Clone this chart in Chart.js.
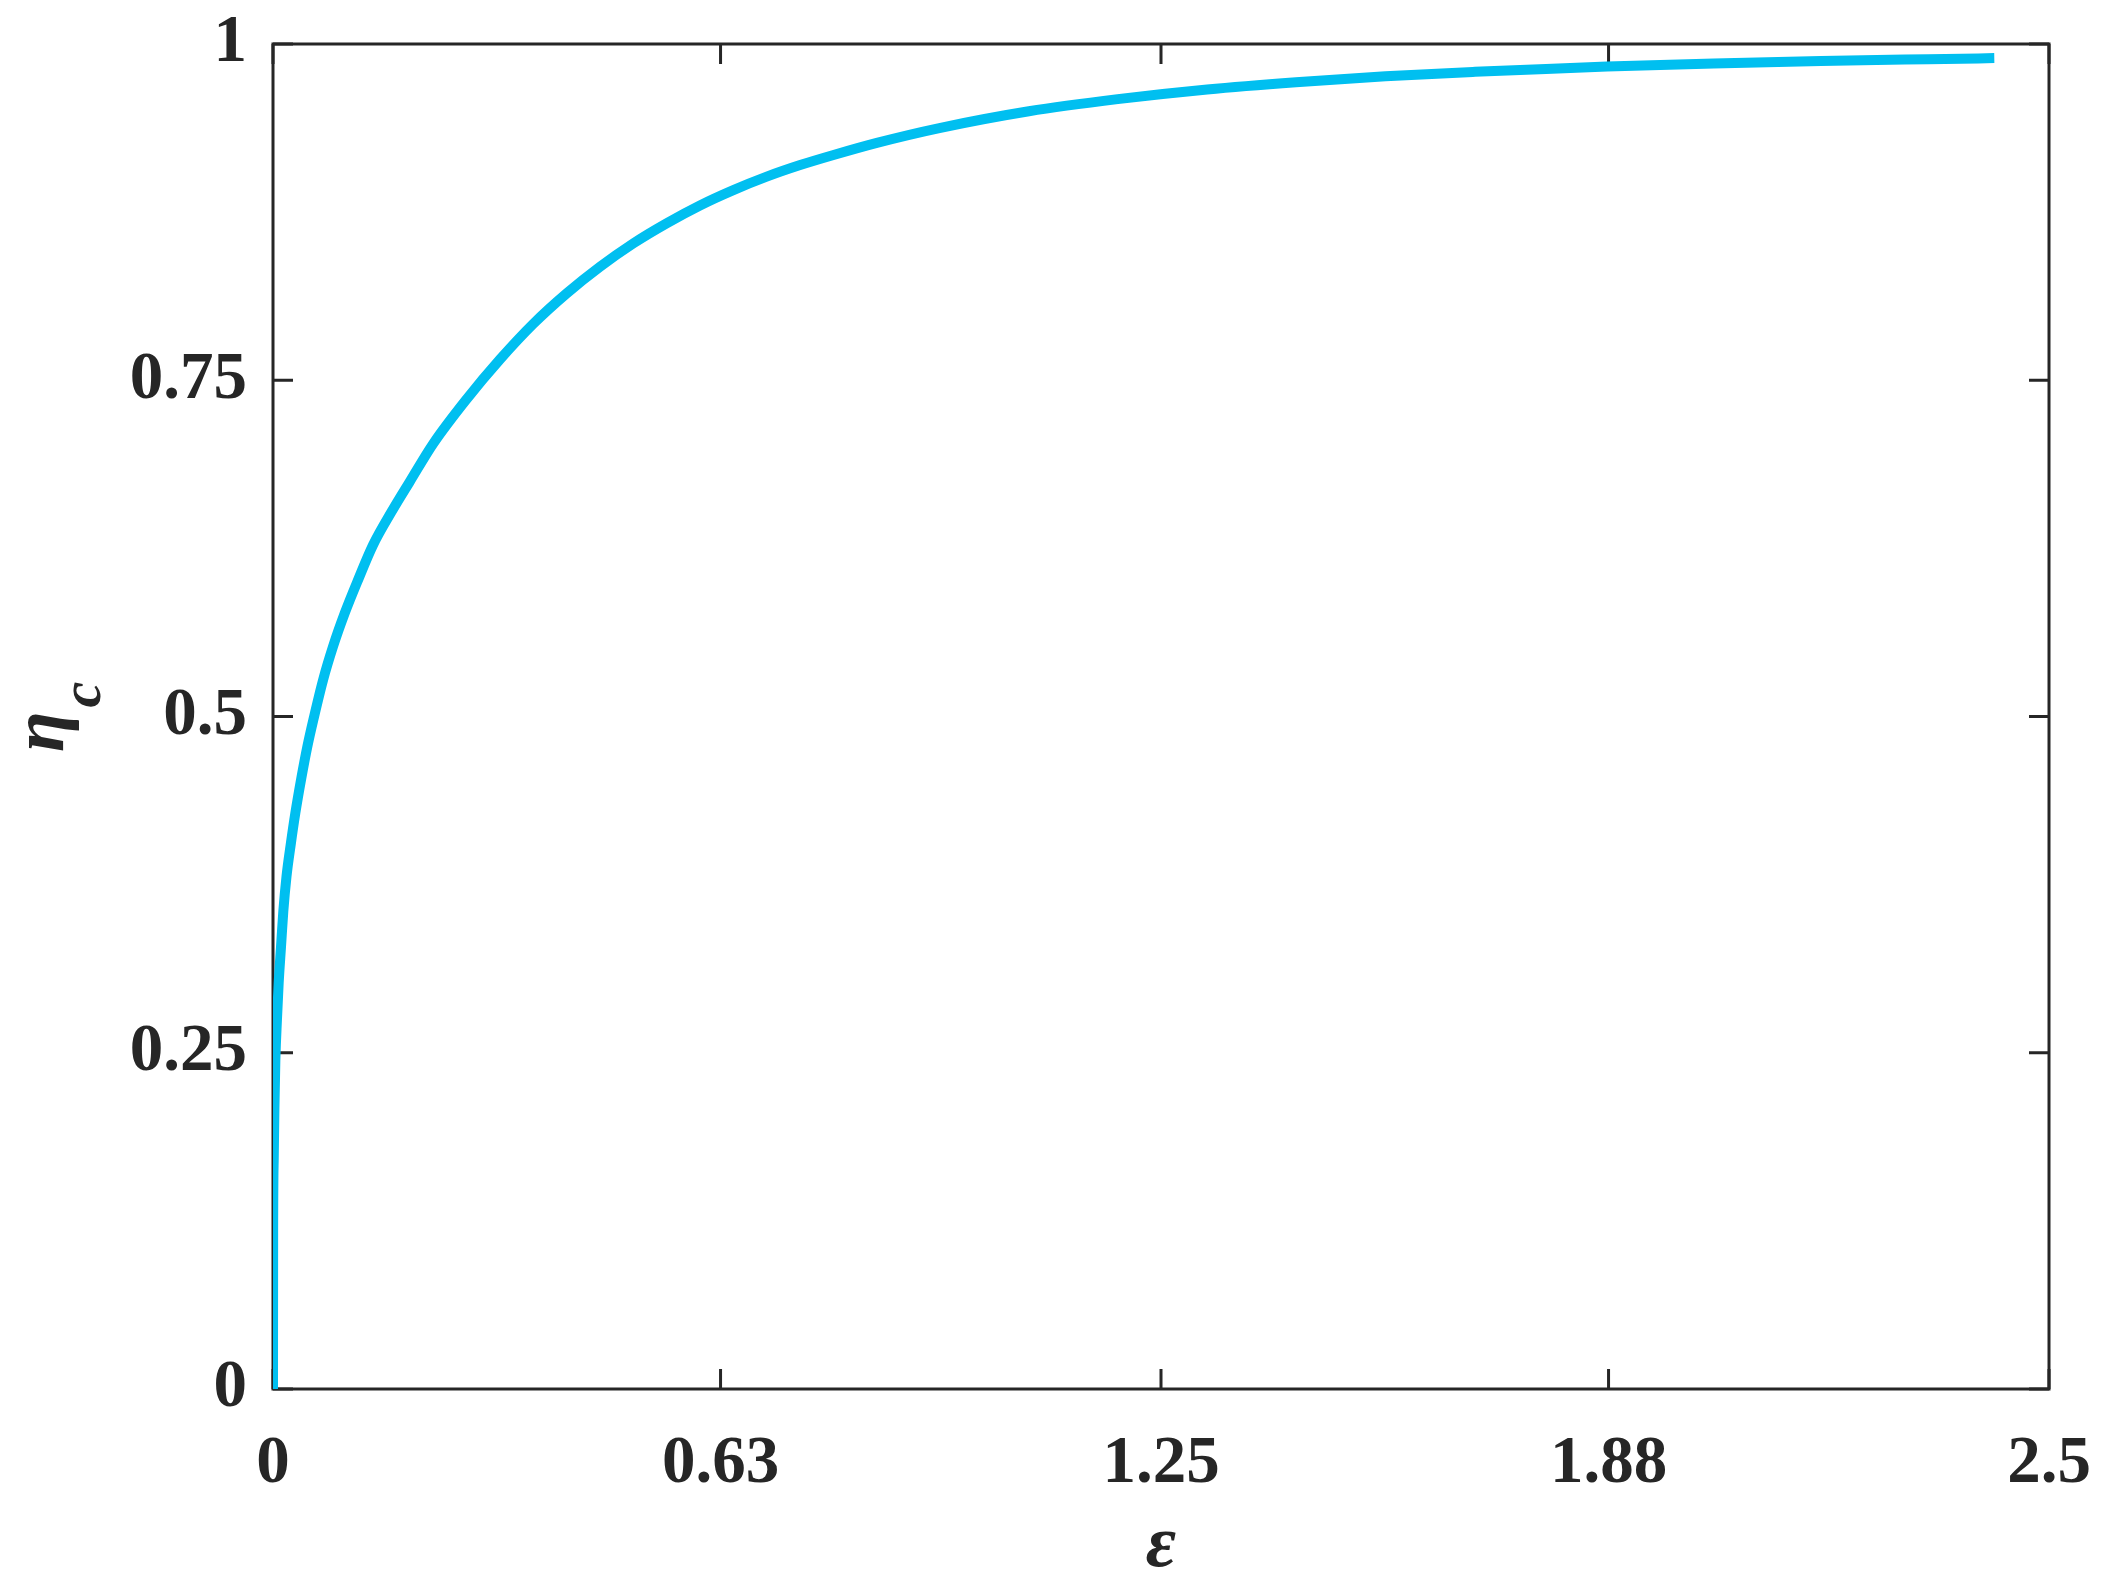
<!DOCTYPE html>
<html>
<head>
<meta charset="utf-8">
<script src="https://cdn.jsdelivr.net/npm/chart.js"></script>
<style>
  body { margin: 0; background: #fff; }
  #wrap { width: 2114px; height: 1593px; position: relative; }
</style>
</head>
<body>
<div id="wrap"><canvas id="effChart"></canvas></div>
<script>
// Data
const epsValues = [0, 0.0002, 0.001, 0.002, 0.0033, 0.0056, 0.008, 0.0113, 0.0145, 0.019, 0.025, 0.0314, 0.04, 0.0483, 0.0577, 0.0704, 0.0845, 0.1009, 0.1197, 0.1408, 0.1666, 0.1924, 0.2257, 0.2726, 0.3195, 0.3665, 0.4134, 0.4603, 0.5072, 0.554, 0.601, 0.648, 0.695, 0.742, 0.789, 0.85, 0.938, 1.064, 1.189, 1.315, 1.44, 1.566, 1.692, 1.792, 1.878, 2.028, 2.179, 2.33, 2.423]
const etaValues = [0, 0.116, 0.17, 0.209, 0.244, 0.275, 0.302, 0.329, 0.355, 0.381, 0.405, 0.428, 0.4545, 0.4775, 0.4996, 0.527, 0.552, 0.5767, 0.6015, 0.6275, 0.652, 0.6745, 0.703, 0.736, 0.7655, 0.792, 0.8146, 0.8344, 0.8518, 0.8667, 0.880, 0.8914, 0.9014, 0.910, 0.9175, 0.9265, 0.9375, 0.950, 0.959, 0.9662, 0.9716, 0.976, 0.9793, 0.9815, 0.9832, 0.9855, 0.9873, 0.9887, 0.9895]

const xTicks = [0, 0.63, 1.25, 1.88, 2.5]
const xTickLabels = ["0", "0.63", "1.25", "1.88", "2.5"]
const yTicks = [0, 0.25, 0.5, 0.75, 1]
const yTickLabels = ["0", "0.25", "0.5", "0.75", "1"]

const axisColor = "#262626"
const lineColor = "rgb(0,191,240)"
const serif = "'Liberation Serif', 'Times New Roman', serif"

// Box + inward ticks on all four sides, under the curve
const framePlugin = {
  id: "frame",
  beforeDatasetsDraw(chart) {
    const { ctx, chartArea: a, scales: { x, y } } = chart
    ctx.save()
    ctx.strokeStyle = axisColor
    ctx.lineWidth = 3
    ctx.strokeRect(a.left, a.top, a.right - a.left, a.bottom - a.top)
    ctx.beginPath()
    xTicks.forEach(v => {
      const px = x.getPixelForValue(v)
      ctx.moveTo(px, a.bottom); ctx.lineTo(px, a.bottom - 20)
      ctx.moveTo(px, a.top); ctx.lineTo(px, a.top + 20)
    })
    yTicks.forEach(v => {
      const py = y.getPixelForValue(v)
      ctx.moveTo(a.left, py); ctx.lineTo(a.left + 20, py)
      ctx.moveTo(a.right, py); ctx.lineTo(a.right - 20, py)
    })
    ctx.stroke()
    ctx.restore()
  }
}

// y title: eta with subscript c, rotated
const yTitlePlugin = {
  id: "yTitle",
  afterDraw(chart) {
    const { ctx } = chart
    ctx.save()
    ctx.translate(63, 752)
    ctx.rotate(-Math.PI / 2)
    ctx.fillStyle = axisColor
    ctx.textBaseline = "alphabetic"
    ctx.textAlign = "left"
    ctx.font = "italic bold 74px " + serif
    ctx.fillText("η", 0, 0)
    const w = ctx.measureText("η").width
    ctx.font = "italic bold 58px " + serif
    ctx.fillText("c", w + 4, 37)
    ctx.restore()
  }
}

const effChart = document.querySelector("#effChart").getContext("2d")

new Chart(effChart, {
  type: "scatter",
  data: {
    datasets: [{
      data: epsValues.map((e, i) => ({ x: e, y: etaValues[i] })),
      showLine: true,
      borderColor: lineColor,
      backgroundColor: lineColor,
      borderWidth: 10,
      borderJoinStyle: "round",
      pointRadius: 0,
      cubicInterpolationMode: "monotone"
    }]
  },
  options: {
    responsive: true,
    maintainAspectRatio: false,
    animation: false,
    events: [],
    layout: { padding: { top: 44, right: 65, left: 0, bottom: 0 } },
    plugins: {
      legend: { display: false },
      tooltip: { enabled: false }
    },
    scales: {
      x: {
        type: "linear",
        min: 0,
        max: 2.5,
        afterBuildTicks: s => { s.ticks = xTicks.map(v => ({ value: v })) },
        afterFit: s => {
          s.height = 204
          s.paddingLeft = 0
          s.paddingRight = 0
        },
        ticks: {
          color: axisColor,
          padding: 27,
          maxRotation: 0,
          autoSkip: false,
          font: { family: serif, size: 67, weight: "bold" },
          callback: (v) => xTickLabels[xTicks.indexOf(v)]
        },
        grid: { display: false },
        border: { display: false },
        title: {
          display: true,
          text: "ε",
          color: axisColor,
          padding: { top: 0, bottom: 9 },
          font: { family: serif, size: 74, style: "italic", weight: "bold", lineHeight: 1 }
        }
      },
      y: {
        type: "linear",
        min: 0,
        max: 1,
        afterBuildTicks: s => { s.ticks = yTicks.map(v => ({ value: v })) },
        afterFit: s => {
          s.width = 273
          s.paddingTop = 0
          s.paddingBottom = 0
        },
        ticks: {
          color: axisColor,
          padding: 18,
          autoSkip: false,
          font: { family: serif, size: 67, weight: "bold" },
          callback: (v) => yTickLabels[yTicks.indexOf(v)]
        },
        grid: { display: false },
        border: { display: false }
      }
    }
  },
  plugins: [framePlugin, yTitlePlugin]
})
</script>
</body>
</html>
